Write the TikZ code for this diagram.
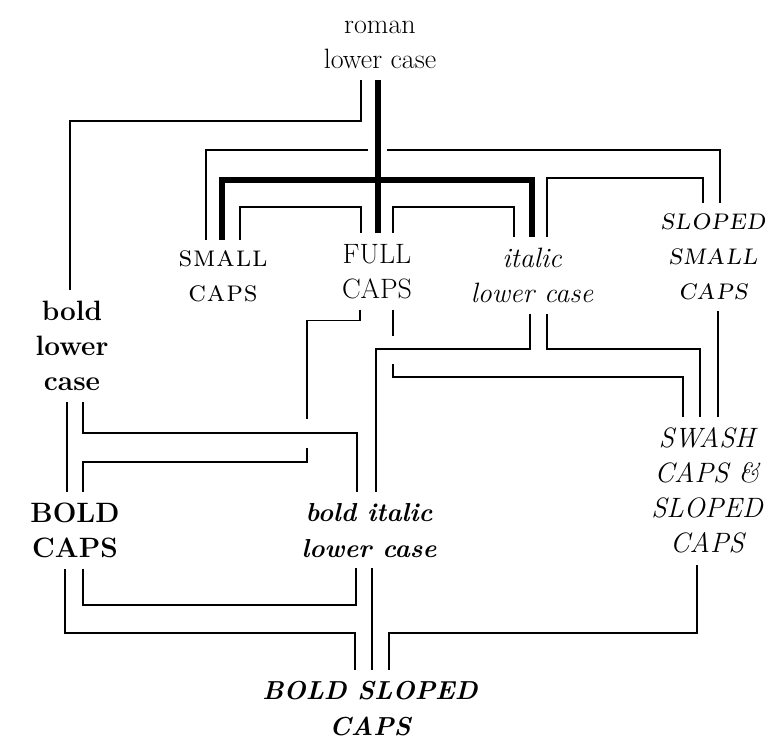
\documentclass[tikz,border=0pt]{standalone}
\usepackage{fontspec}
\usepackage{tikz}

\newfontfamily\capsfont{lmromancaps10-regular.otf}[LetterSpace=3]
\newfontfamily\slcapsfont{lmromancaps10-oblique.otf}[LetterSpace=3]
\newcommand{\labelsize}{\fontsize{28}{35}\selectfont}
\newcommand{\capsize}{\fontsize{30}{35}\selectfont}
\newcommand{\boldsize}{\fontsize{26}{36}\selectfont}

\tikzset{
    lbl/.style={align=center, inner sep=0pt, outer xsep=0pt, outer ysep=11pt, font=\labelsize},
    link/.style={line width=1.8pt},
    heavy/.style={line width=5.5pt}
}

\begin{document}
\begin{tikzpicture}[x=1pt, y=-1pt]
            \useasboundingbox (0,0) rectangle (782,754);

            \node[lbl, anchor=south] (roman) at (380,80) {roman\\lower case};
            \node[lbl, anchor=north, font=\capsize\capsfont] (small) at (223,240) {small\\caps};
            \node[lbl, anchor=north] (full) at (377,233) {FULL\\CAPS};
            \node[lbl, anchor=north, font=\labelsize\itshape] (italic) at (532,237) {italic\\lower case};
            \node[lbl, anchor=north, font=\capsize\slcapsfont] (sloped) at (713,203) {sloped\\small\\caps};

            \node[lbl, anchor=north, font=\labelsize\bfseries] (boldlc) at (72,290) {bold\\lower\\case};
            \node[lbl, anchor=north, font=\labelsize\bfseries] (boldcaps) at (75,492) {BOLD\\CAPS};
            \node[lbl, anchor=north, font=\boldsize\bfseries\itshape] (bolditalic) at (369,492) {bold italic\\lower case};
            \node[lbl, anchor=north, font=\labelsize\itshape] (swash) at (707,417) {SWASH\\CAPS \&\\SLOPED\\CAPS};
            \node[lbl, anchor=north, font=\boldsize\bfseries\itshape] (boldsloped) at (370,670) {BOLD SLOPED\\CAPS};

            % heavy links from roman lower case
            \draw[heavy] ([xshift=-2]roman.south) -- ([xshift=1]full.north);
            \draw[heavy] ([xshift=-1]small.north) -- ++(0,-60) -| (italic.north);

            % top row
            \draw[link] ([xshift=-19]roman.south) -- ++(0,41) -| ([xshift=-2]boldlc.north);
            \draw[link] ([xshift=-17]small.north) -- ++(0,-90) -- ++(162,0) ++(19,0) -| ([xshift=7]sloped.north);
            \draw[link] ([xshift=17]small.north) -- ++(0,-33) -| ([xshift=-16]full.north);
            \draw[link] ([xshift=16]full.north) -- ++(0,-26) -| ([xshift=-18]italic.north);
            \draw[link] ([xshift=15]italic.north) -- ++(0,-59) -| ([xshift=-10]sloped.north);

            % middle row
            \draw[link] ([xshift=-17]full.south) -- ++(0,11) -| ++(-53,98);
            \draw[link] ([xshift=8]boldcaps.north) -- ++(0,-30) -- ++(224,0) -- ++(0,-14);
            \draw[link] ([xshift=11]boldlc.south) -- ++(0,31) -| ([xshift=-12]bolditalic.north);
            \draw[link] ([xshift=-5]boldlc.south) -- ([xshift=-8]boldcaps.north);
            \draw[link] ([xshift=16]full.south) -- ++(0,26);
            \draw[link] ([xshift=-24]swash.north) -- ++(0,-40) -- ++(-290,0) -- ++(0,-13);
            \draw[link] ([xshift=7]bolditalic.north) -- ++(0,-143) -| ([xshift=-2]italic.south);
            \draw[link] ([xshift=-7]swash.north) -- ++(0,-68) -| ([xshift=15]italic.south);
            \draw[link] ([xshift=5]sloped.south) -- ([xshift=11]swash.north);

            % bottom row
            \draw[link] ([xshift=8]boldcaps.south) -- ++(0,36) -| ([xshift=-13]bolditalic.south);
            \draw[link] ([xshift=-15]boldsloped.north) -- ++(0,-37) -| ([xshift=-10]boldcaps.south);
            \draw[link] ([xshift=3]bolditalic.south) -- ([xshift=2]boldsloped.north);
            \draw[link] ([xshift=19]boldsloped.north) -- ++(0,-37) -| ([xshift=-10]swash.south);
\end{tikzpicture}
\end{document}
